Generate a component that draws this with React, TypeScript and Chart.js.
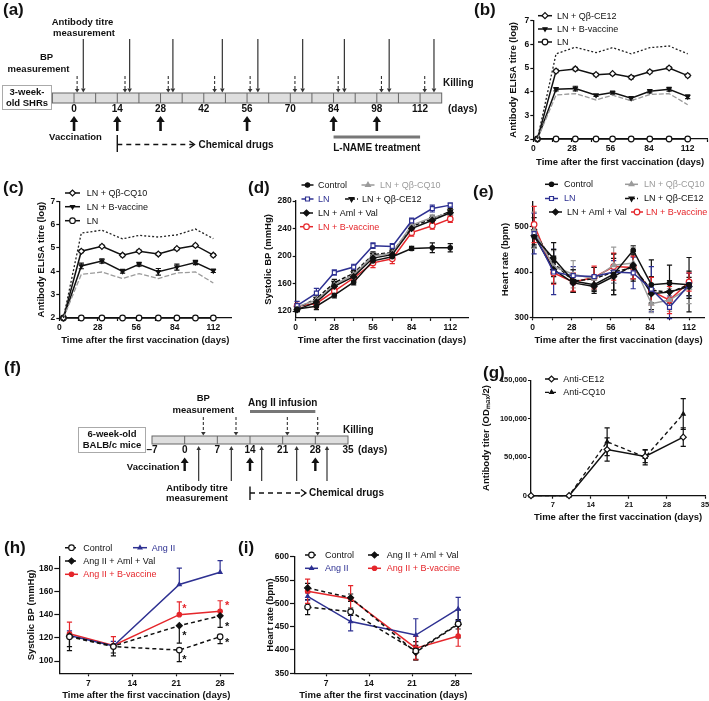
import React, { useEffect, useRef } from "react";
import { Chart, registerables } from "chart.js";
import { drawPoint } from "chart.js/helpers";

Chart.register(...registerables);

const FONT = '"Liberation Sans", Arial, Helvetica, sans-serif';
const BLACK = "#111111";
const BLUE = "#2e3192";
const RED = "#e5262b";
const GRAY = "#9b9b9b";
const DOTTED = "#222222";

// ---------------- (a) schematic (days)
const A_BAR_RANGE = [-7, 119];
const A_SEGMENT = 7;
const A_TICK_DAYS = [0, 14, 28, 42, 56, 70, 84, 98, 112];
const A_BP_DAYS = [1, 16.5, 30.5, 45.5, 57, 71.5, 85.5, 99.5, 113.5];
const A_TITRE_DAYS = [3, 18, 32, 48, 59.5, 74, 87.5, 102, 116.5];
const A_VACC_DAYS = [0, 14, 28, 56, 84, 98];
const A_DRUG_RANGE = [14, 39];
const A_LNAME_RANGE = [84, 112];

// ---------------- (f) schematic (days)
const F_BAR_RANGE = [-7, 35];
const F_SEGMENT = 7;
const F_TICK_DAYS = [-7, 0, 7, 14, 21, 28, 35];
const F_BP_DAYS = [4, 11, 22, 28.5];
const F_TITRE_DAYS = [3, 10, 16.5, 24, 30.5];
const F_VACC_DAYS = [0, 14, 28];
const F_DRUG_RANGE = [14, 26];
const F_ANGII_RANGE = [14, 28];

// ---------------- (b)
const B_DAYS = [3, 16.5, 30.5, 45.5, 57.5, 71, 84.5, 98.5, 112];
const B_CE12 = [2, 4.87, 4.96, 4.72, 4.76, 4.61, 4.84, 5.0, 4.68];
const B_CE12_ERR = [0, 0.07, 0.07, 0.05, 0.05, 0.07, 0.06, 0.05, 0.06];
const B_BVAC = [2, 4.1, 4.13, 3.85, 3.96, 3.72, 4.02, 4.1, 3.79];
const B_BVAC_ERR = [0, 0.07, 0.1, 0.05, 0.06, 0.07, 0.07, 0.08, 0.08];
const B_LN = [2, 2, 2, 2, 2, 2, 2, 2, 2];
const B_UPPER = [2, 5.6, 5.88, 5.65, 5.86, 5.6, 5.86, 5.93, 5.6];
const B_LOWER = [2, 3.86, 3.92, 3.65, 3.85, 3.62, 3.88, 3.92, 3.45];

// ---------------- (c)
const C_DAYS = [3, 16, 31, 46, 58, 72, 85.5, 99, 112];
const C_CQ10 = [2, 4.86, 5.07, 4.69, 4.86, 4.74, 4.97, 5.11, 4.69];
const C_CQ10_ERR = [0, 0.06, 0.05, 0.06, 0.05, 0.06, 0.05, 0.05, 0.06];
const C_BVAC = [2, 4.23, 4.44, 4.0, 4.3, 3.98, 4.18, 4.38, 4.02];
const C_BVAC_ERR = [0, 0.12, 0.09, 0.08, 0.08, 0.14, 0.13, 0.09, 0.07];
const C_LN = [2, 2, 2, 2, 2, 2, 2, 2, 2];
const C_UPPER = [2, 5.64, 5.76, 5.39, 5.54, 5.47, 5.56, 5.81, 5.4];
const C_LOWER = [2, 3.87, 3.97, 3.69, 3.9, 3.69, 3.93, 3.97, 3.5];

// ---------------- (d) systolic BP
const D_DAYS = [1, 15, 28, 42, 56, 70, 84, 99, 112];
const D_CONTROL = [123, 127, 143, 162, 193, 199, 211, 212, 212];
const D_CONTROL_ERR = [4, 5, 4, 4, 4, 4, 3, 7, 6];
const D_LN = [128, 146, 176, 184, 215, 214, 251, 269, 274];
const D_LN_ERR = [6, 7, 4, 4, 4, 4, 4, 5, 3];
const D_AMLVAL = [122, 133, 156, 170, 197, 202, 240, 252, 263];
const D_AMLVAL_ERR = [3, 4, 4, 3, 4, 4, 4, 4, 3];
const D_CQ10 = [126, 136, 158, 173, 200, 204, 245, 256, 262];
const D_CQ10_ERR = [4, 4, 4, 3, 4, 4, 4, 4, 4];
const D_CE12 = [124, 138, 161, 175, 202, 205, 243, 254, 265];
const D_CE12_ERR = [4, 5, 5, 4, 4, 4, 4, 4, 4];
const D_BVAC = [127, 131, 149, 168, 190, 196, 234, 244, 254];
const D_BVAC_ERR = [4, 6, 5, 4, 7, 7, 5, 5, 5];

// ---------------- (e) heart rate
const E_DAYS = [1, 15, 29, 44, 58, 72, 85, 98, 112];
const E_CONTROL = [478, 430, 380, 372, 395, 448, 372, 375, 372];
const E_CONTROL_ERR = [25, 35, 25, 15, 45, 10, 55, 40, 60];
const E_LN = [485, 400, 392, 390, 400, 398, 362, 322, 372];
const E_LN_ERR = [45, 50, 20, 20, 25, 35, 50, 25, 25];
const E_AMLVAL = [480, 405, 376, 368, 390, 415, 352, 356, 368];
const E_AMLVAL_ERR = [25, 30, 20, 15, 40, 30, 20, 25, 20];
const E_CQ10 = [492, 412, 395, 385, 415, 420, 330, 338, 365];
const E_CQ10_ERR = [40, 35, 30, 25, 40, 35, 20, 25, 35];
const E_CE12 = [490, 420, 380, 385, 400, 410, 360, 355, 372];
const E_CE12_ERR = [30, 30, 25, 25, 40, 30, 30, 20, 30];
const E_BVAC = [505, 398, 378, 388, 412, 410, 358, 338, 378];
const E_BVAC_ERR = [40, 25, 20, 25, 30, 25, 30, 30, 20];

// ---------------- (g) antibody titer
const G_DAYS = [3, 10, 17, 24, 31];
const G_CE12 = [0, 0, 60000, 51000, 76000];
const G_CE12_ERR = [0, 0, 15000, 8000, 12000];
const G_CQ10 = [0, 0, 70000, 50000, 106000];
const G_CQ10_ERR = [0, 0, 18000, 10000, 20000];

// ---------------- (h) systolic BP
const H_DAYS = [4, 11, 21.5, 28];
const H_CONTROL = [121, 112.5, 109.5, 121];
const H_CONTROL_ERR = [12, 8, 10, 6];
const H_AMLVAL = [121.5, 113, 130.5, 139];
const H_AMLVAL_ERR = [9, 6, 15, 10];
const H_ANGII = [122, 113, 166, 176.5];
const H_ANGII_ERR = [4, 4, 14, 10];
const H_BVAC = [123.5, 113.5, 140, 143];
const H_BVAC_ERR = [10, 7.5, 11, 9];
const H_STARS_X = [22.3, 22.3, 22.3, 29.1, 29.1, 29.1];
const H_STARS_Y = [147, 123, 103, 149.5, 131.5, 117];
const H_STARS_RED = [true, false, false, true, false, false];

// ---------------- (i) heart rate
const I_DAYS = [4, 11, 21.6, 28.5];
const I_CONTROL = [492, 482, 398, 456];
const I_CONTROL_ERR = [16, 8, 20, 30];
const I_AMLVAL = [533, 512, 395, 455];
const I_AMLVAL_ERR = [10, 8, 15, 10];
const I_ANGII = [515, 461, 432, 488];
const I_ANGII_ERR = [8, 20, 35, 25];
const I_BVAC = [526, 510, 404, 430];
const I_BVAC_ERR = [26, 28, 25, 22];

const X_TITLE = "Time after the first vaccination (days)";

type Box = { left: number; top: number; width: number; height: number };
type Area = { L: number; T: number; R: number; B: number };
interface Series {
  label: string;
  days: number[];
  values: number[];
  errUp?: number[];
  errDown?: number[];
  color: string;
  dash?: number[];
  width?: number;
  marker?: string | false;
  radius?: number;
  open?: boolean;
  rotation?: number;
}
interface LegendItem { ds: number; sx: number; sw: number; tx: number; y: number; color?: string }
interface Panel {
  box: Box;
  area: Area;
  x: { min: number; max: number; step: number; every?: number };
  y: { min: number; max: number; step: number; fmt?: (v: number) => string };
  yTickLen?: number;
  tickSize?: number;
  yTitle: string;
  yTitleX: number;
  xTitleY: number;
  series: Series[];
  legend: LegendItem[];
  stars?: { x: number[]; y: number[]; red: boolean[] };
}

function toDataset(s: Series) {
  return {
    label: s.label,
    data: s.days.map((d, i) => ({ x: d, y: s.values[i] })),
    borderColor: s.color,
    backgroundColor: s.color,
    borderWidth: s.width ?? 1.5,
    borderDash: s.dash ?? [],
    pointStyle: s.marker || "circle",
    pointRadius: s.marker ? s.radius ?? 2.8 : 0,
    pointHoverRadius: s.marker ? s.radius ?? 2.8 : 0,
    pointBorderWidth: 1.2,
    pointBackgroundColor: s.open ? "#ffffff" : s.color,
    pointBorderColor: s.color,
    pointRotation: s.rotation ?? 0,
    tension: 0,
    clip: false,
    errUp: s.errUp,
    errDown: s.errDown,
  };
}

const errorBarPlugin = {
  id: "errorBars",
  beforeDatasetsDraw(chart: any) {
    const { ctx } = chart;
    const sx = chart.scales.x;
    const sy = chart.scales.y;
    chart.data.datasets.forEach((ds: any) => {
      if (!ds.errUp && !ds.errDown) return;
      ctx.save();
      ctx.strokeStyle = ds.borderColor;
      ctx.lineWidth = 1.2;
      ctx.setLineDash([]);
      ds.data.forEach((p: any, j: number) => {
        const px = sx.getPixelForValue(p.x);
        const py = sy.getPixelForValue(p.y);
        const parts: number[] = [];
        if (ds.errUp && ds.errUp[j]) parts.push(p.y + ds.errUp[j]);
        if (ds.errDown && ds.errDown[j]) parts.push(p.y - ds.errDown[j]);
        parts.forEach((v) => {
          const ty = sy.getPixelForValue(v);
          ctx.beginPath();
          ctx.moveTo(px, py);
          ctx.lineTo(px, ty);
          ctx.moveTo(px - 2.6, ty);
          ctx.lineTo(px + 2.6, ty);
          ctx.stroke();
        });
      });
      ctx.restore();
    });
  },
};

function makeLegendPlugin(items: LegendItem[], box: Box) {
  return {
    id: "customLegend",
    afterDraw(chart: any) {
      const ctx = chart.ctx;
      ctx.save();
      items.forEach((it) => {
        const ds = chart.data.datasets[it.ds];
        const x0 = it.sx - box.left;
        const x1 = x0 + it.sw;
        const y = it.y - box.top;
        ctx.strokeStyle = ds.borderColor;
        ctx.lineWidth = ds.borderWidth;
        ctx.setLineDash(ds.borderDash || []);
        ctx.beginPath();
        ctx.moveTo(x0, y);
        ctx.lineTo(x1, y);
        ctx.stroke();
        ctx.setLineDash([]);
        ctx.fillStyle = ds.pointBackgroundColor;
        ctx.strokeStyle = ds.pointBorderColor;
        ctx.lineWidth = ds.pointBorderWidth;
        if (ds.pointRadius > 0) {
          drawPoint(
            ctx,
            { pointStyle: ds.pointStyle, rotation: ds.pointRotation || 0, radius: ds.pointRadius, borderWidth: ds.pointBorderWidth } as any,
            (x0 + x1) / 2,
            y
          );
        }
        ctx.fillStyle = it.color || BLACK;
        ctx.font = `9px ${FONT}`;
        ctx.textAlign = "left";
        ctx.textBaseline = "middle";
        ctx.fillText(ds.label, it.tx - box.left, y + 0.5);
      });
      ctx.restore();
    },
  };
}

function makeStarPlugin(stars?: { x: number[]; y: number[]; red: boolean[] }) {
  return {
    id: "stars",
    afterDatasetsDraw(chart: any) {
      if (!stars) return;
      const ctx = chart.ctx;
      ctx.save();
      ctx.font = `bold 11px ${FONT}`;
      ctx.textAlign = "center";
      ctx.textBaseline = "middle";
      stars.x.forEach((xv, i) => {
        ctx.fillStyle = stars.red[i] ? RED : BLACK;
        ctx.fillText("*", chart.scales.x.getPixelForValue(xv), chart.scales.y.getPixelForValue(stars.y[i]) + 2);
      });
      ctx.restore();
    },
  };
}

function lineConfig(p: Panel): any {
  const titleSize = 9.5;
  const lh = titleSize * 1.2;
  const { box, area } = p;
  const yTick = p.yTickLen ?? 3;
  const tickSize = p.tickSize ?? 8.5;
  return {
    type: "line",
    data: { datasets: p.series.map(toDataset) },
    options: {
      animation: false,
      responsive: false,
      devicePixelRatio: 1,
      layout: {
        autoPadding: false,
        padding: { left: 0, top: area.T - box.top, right: box.left + box.width - area.R, bottom: 0 },
      },
      plugins: { legend: { display: false }, tooltip: { enabled: false } },
      scales: {
        x: {
          type: "linear",
          min: p.x.min,
          max: p.x.max,
          afterFit: (s: any) => {
            s.height = box.top + box.height - area.B;
            s.paddingLeft = 0;
            s.paddingRight = 0;
          },
          border: { display: true, color: BLACK, width: 1.3 },
          grid: { display: true, drawOnChartArea: false, drawTicks: true, tickLength: 3, tickColor: BLACK, tickWidth: 1.2 },
          ticks: {
            stepSize: p.x.step,
            includeBounds: false,
            autoSkip: false,
            maxRotation: 0,
            padding: 2,
            color: BLACK,
            font: { family: FONT, size: tickSize, weight: "bold" },
            callback: (v: number) => (p.x.every ? (Math.abs(v % p.x.every) < 1e-6 ? String(v) : "") : String(v)),
          },
          title: {
            display: true,
            text: X_TITLE,
            color: BLACK,
            font: { family: FONT, size: titleSize, weight: "bold" },
            padding: { top: 0, bottom: box.top + box.height - p.xTitleY - lh / 2 },
          },
        },
        y: {
          type: "linear",
          min: p.y.min,
          max: p.y.max,
          afterFit: (s: any) => {
            s.width = area.L - box.left;
            s.paddingTop = 0;
            s.paddingBottom = 0;
          },
          border: { display: true, color: BLACK, width: 1.3 },
          grid: { display: true, drawOnChartArea: false, drawTicks: true, tickLength: yTick, tickColor: BLACK, tickWidth: 1.2 },
          ticks: {
            stepSize: p.y.step,
            includeBounds: false,
            autoSkip: false,
            padding: 1,
            color: BLACK,
            font: { family: FONT, size: tickSize, weight: "bold" },
            callback: (v: number) => (p.y.fmt ? p.y.fmt(v) : String(v)),
          },
          title: {
            display: true,
            text: p.yTitle,
            color: BLACK,
            font: { family: FONT, size: titleSize, weight: "bold" },
            padding: { top: p.yTitleX - box.left - lh / 2, bottom: 0 },
          },
        },
      },
    },
    plugins: [errorBarPlugin, makeLegendPlugin(p.legend, box), makeStarPlugin(p.stars)],
  };
}

// ---------------- schematic drawing helpers
function text(ctx: any, s: string, x: number, y: number, align: string = "center", size = 9.5, bold = true) {
  ctx.save();
  ctx.fillStyle = BLACK;
  ctx.font = `${bold ? "bold " : ""}${size}px ${FONT}`;
  ctx.textAlign = align;
  ctx.textBaseline = "middle";
  ctx.fillText(s, x, y);
  ctx.restore();
}

function vArrow(ctx: any, x: number, y0: number, y1: number, o: { lw?: number; dash?: number[]; head?: number; hw?: number; color?: string } = {}) {
  const lw = o.lw ?? 1.2;
  const head = o.head ?? 4;
  const hw = o.hw ?? 2.5;
  const dir = y1 > y0 ? 1 : -1;
  ctx.save();
  ctx.strokeStyle = o.color ?? "#333";
  ctx.fillStyle = o.color ?? "#333";
  ctx.lineWidth = lw;
  ctx.setLineDash(o.dash ?? []);
  ctx.beginPath();
  ctx.moveTo(x, y0);
  ctx.lineTo(x, y1 - dir * head);
  ctx.stroke();
  ctx.setLineDash([]);
  ctx.beginPath();
  ctx.moveTo(x, y1);
  ctx.lineTo(x - hw, y1 - dir * head);
  ctx.lineTo(x + hw, y1 - dir * head);
  ctx.closePath();
  ctx.fill();
  ctx.restore();
}

function drawBar(ctx: any, X: (d: number) => number, range: number[], seg: number, yTop: number, yBot: number) {
  const x0 = X(range[0]);
  const x1 = X(range[1]);
  ctx.save();
  ctx.fillStyle = "#dedede";
  ctx.fillRect(x0, yTop, x1 - x0, yBot - yTop);
  ctx.strokeStyle = "#666";
  ctx.lineWidth = 1;
  ctx.strokeRect(x0, yTop, x1 - x0, yBot - yTop);
  ctx.beginPath();
  for (let d = range[0] + seg; d < range[1]; d += seg) {
    ctx.moveTo(X(d), yTop);
    ctx.lineTo(X(d), yBot);
  }
  ctx.stroke();
  ctx.restore();
}

function hLine(ctx: any, x0: number, x1: number, y: number, lw: number, color: string, dash: number[] = []) {
  ctx.save();
  ctx.strokeStyle = color;
  ctx.lineWidth = lw;
  ctx.setLineDash(dash);
  ctx.beginPath();
  ctx.moveTo(x0, y);
  ctx.lineTo(x1, y);
  ctx.stroke();
  ctx.restore();
}

function drugArrow(ctx: any, x0: number, x1: number, y: number, y0: number, y1: number) {
  ctx.save();
  ctx.strokeStyle = BLACK;
  ctx.lineWidth = 1.4;
  ctx.beginPath();
  ctx.moveTo(x0, y0);
  ctx.lineTo(x0, y1);
  ctx.stroke();
  ctx.restore();
  hLine(ctx, x0, x1 - 1, y, 1.3, BLACK, [5, 4]);
  ctx.save();
  ctx.strokeStyle = BLACK;
  ctx.lineWidth = 1.3;
  ctx.beginPath();
  ctx.moveTo(x1 - 5, y - 3.5);
  ctx.lineTo(x1, y);
  ctx.lineTo(x1 - 5, y + 3.5);
  ctx.stroke();
  ctx.restore();
}

function schematicConfig(box: Box, xMin: number, xMax: number, areaL: number, areaR: number, draw: (ctx: any, X: (d: number) => number, Y: (v: number) => number) => void): any {
  return {
    type: "scatter",
    data: { datasets: [] },
    options: {
      animation: false,
      responsive: false,
      devicePixelRatio: 1,
      layout: { autoPadding: false, padding: { left: areaL - box.left, right: box.left + box.width - areaR, top: 0, bottom: 0 } },
      plugins: { legend: { display: false }, tooltip: { enabled: false } },
      scales: {
        x: { type: "linear", min: xMin, max: xMax, display: false },
        y: { type: "linear", min: box.top, max: box.top + box.height, reverse: true, display: false },
      },
    },
    plugins: [
      {
        id: "schematic",
        afterDraw(chart: any) {
          const X = (d: number) => chart.scales.x.getPixelForValue(d);
          const Y = (v: number) => chart.scales.y.getPixelForValue(v);
          draw(chart.ctx, X, Y);
        },
      },
    ],
  };
}

const BOX_A: Box = { left: 0, top: 0, width: 480, height: 160 };
function drawA(ctx: any, X: (d: number) => number, Y: (v: number) => number) {
  ctx.save();
  ctx.strokeStyle = "#aaa";
  ctx.lineWidth = 1;
  ctx.fillStyle = "#fff";
  ctx.fillRect(2.5, Y(85.5), 49, 24);
  ctx.strokeRect(2.5, Y(85.5), 49, 24);
  ctx.restore();
  text(ctx, "3-week-", 27, Y(92.5));
  text(ctx, "old SHRs", 27, Y(103));
  drawBar(ctx, X, A_BAR_RANGE, A_SEGMENT, Y(93), Y(103));
  A_TICK_DAYS.forEach((d) => text(ctx, String(d), X(d), Y(109), "center", 10));
  text(ctx, "(days)", 448, Y(109), "left", 10);
  text(ctx, "Killing", 443, Y(83), "left", 10);
  A_BP_DAYS.forEach((d) => vArrow(ctx, X(d), Y(76), Y(92.5), { dash: [3, 2], lw: 1.1, head: 3.5, hw: 2.3 }));
  A_TITRE_DAYS.forEach((d) => vArrow(ctx, X(d), Y(39), Y(92.5), { lw: 1.2, head: 4, hw: 2.3 }));
  A_VACC_DAYS.forEach((d) => vArrow(ctx, X(d), Y(131), Y(116), { lw: 2.6, head: 6, hw: 4.2, color: BLACK }));
  text(ctx, "BP", 46.5, Y(57));
  text(ctx, "measurement", 38.5, Y(69));
  text(ctx, "Antibody titre", 82.5, Y(22));
  text(ctx, "measurement", 84, Y(33));
  text(ctx, "Vaccination", 75.5, Y(137.5));
  drugArrow(ctx, X(A_DRUG_RANGE[0]), X(A_DRUG_RANGE[1]), Y(144.5), Y(135), Y(152));
  text(ctx, "Chemical drugs", X(A_DRUG_RANGE[1]) + 4, Y(145), "left", 10);
  hLine(ctx, X(A_LNAME_RANGE[0]), X(A_LNAME_RANGE[1]), Y(137), 3, "#777");
  text(ctx, "L-NAME treatment", X((A_LNAME_RANGE[0] + A_LNAME_RANGE[1]) / 2), Y(148.5), "center", 10);
}

const BOX_F: Box = { left: 0, top: 355, width: 480, height: 150 };
function drawF(ctx: any, X: (d: number) => number, Y: (v: number) => number) {
  ctx.save();
  ctx.strokeStyle = "#aaa";
  ctx.lineWidth = 1;
  ctx.fillStyle = "#fff";
  ctx.fillRect(78.5, Y(427.5), 67, 25);
  ctx.strokeRect(78.5, Y(427.5), 67, 25);
  ctx.restore();
  text(ctx, "6-week-old", 112, Y(434));
  text(ctx, "BALB/c mice", 112, Y(445.5));
  drawBar(ctx, X, F_BAR_RANGE, F_SEGMENT, Y(436), Y(444));
  F_TICK_DAYS.forEach((d) => text(ctx, d < 0 ? "\u2013" + Math.abs(d) : String(d), X(d), Y(450), "center", 10));
  text(ctx, "(days)", 358, Y(450), "left", 10);
  text(ctx, "Killing", 343, Y(430), "left", 10);
  F_BP_DAYS.forEach((d) => vArrow(ctx, X(d), Y(417), Y(435.5), { dash: [3, 2], lw: 1.1, head: 3.5, hw: 2.3 }));
  text(ctx, "BP", X(F_BP_DAYS[0]), Y(398.5));
  text(ctx, "measurement", X(F_BP_DAYS[0]), Y(410.5));
  text(ctx, "Ang II infusion", X((F_ANGII_RANGE[0] + F_ANGII_RANGE[1]) / 2), Y(403.3), "center", 10);
  hLine(ctx, X(F_ANGII_RANGE[0]), X(F_ANGII_RANGE[1]), Y(411.5), 3, "#777");
  F_VACC_DAYS.forEach((d) => vArrow(ctx, X(d), Y(471), Y(457.5), { lw: 2.4, head: 5.5, hw: 4, color: BLACK }));
  text(ctx, "Vaccination", X(0) - 5, Y(467), "right");
  F_TITRE_DAYS.forEach((d) => vArrow(ctx, X(d), Y(481), Y(446), { lw: 1.2, head: 4, hw: 2.2 }));
  text(ctx, "Antibody titre", 197, Y(488));
  text(ctx, "measurement", 197, Y(498.5));
  drugArrow(ctx, X(F_DRUG_RANGE[0]), X(F_DRUG_RANGE[1]), Y(493), Y(486.5), Y(500));
  text(ctx, "Chemical drugs", X(F_DRUG_RANGE[1]) + 3, Y(493), "left", 10);
}

// ---------------- panels
const PANEL_B: Panel = {
  box: { left: 488, top: 0, width: 221, height: 172 },
  area: { L: 533.3, T: 20.7, R: 707, B: 139 },
  x: { min: 0, max: 126, step: 14, every: 28 },
  y: { min: 2, max: 7, step: 1 },
  yTitle: "Antibody ELISA titre (log)",
  yTitleX: 513,
  xTitleY: 162,
  series: [
    { label: "upper", days: B_DAYS, values: B_UPPER, color: DOTTED, dash: [2, 2], width: 1.3, marker: false },
    { label: "lower", days: B_DAYS, values: B_LOWER, color: GRAY, dash: [5, 2], width: 1.3, marker: false },
    { label: "LN + Q\u03b2-CE12", days: B_DAYS, values: B_CE12, errUp: B_CE12_ERR, errDown: B_CE12_ERR, color: BLACK, marker: "rectRot", radius: 3, open: true },
    { label: "LN + B-vaccine", days: B_DAYS, values: B_BVAC, errUp: B_BVAC_ERR, errDown: B_BVAC_ERR, color: BLACK, marker: "triangle", radius: 2.3, rotation: 180 },
    { label: "LN", days: B_DAYS, values: B_LN, color: BLACK, marker: "circle", radius: 2.8, open: true },
  ],
  legend: [
    { ds: 2, sx: 538, sw: 14, tx: 557, y: 15.7 },
    { ds: 3, sx: 538, sw: 14, tx: 557, y: 29 },
    { ds: 4, sx: 538, sw: 14, tx: 557, y: 42 },
  ],
};

const PANEL_C: Panel = {
  box: { left: 0, top: 176, width: 238, height: 174 },
  area: { L: 59.3, T: 201.3, R: 231.2, B: 318 },
  x: { min: 0, max: 125, step: 14, every: 28 },
  y: { min: 2, max: 7, step: 1 },
  yTitle: "Antibody ELISA titre (log)",
  yTitleX: 41.5,
  xTitleY: 340,
  series: [
    { label: "upper", days: C_DAYS, values: C_UPPER, color: DOTTED, dash: [2, 2], width: 1.3, marker: false },
    { label: "lower", days: C_DAYS, values: C_LOWER, color: GRAY, dash: [5, 2], width: 1.3, marker: false },
    { label: "LN + Q\u03b2-CQ10", days: C_DAYS, values: C_CQ10, errUp: C_CQ10_ERR, errDown: C_CQ10_ERR, color: BLACK, marker: "rectRot", radius: 3, open: true },
    { label: "LN + B-vaccine", days: C_DAYS, values: C_BVAC, errUp: C_BVAC_ERR, errDown: C_BVAC_ERR, color: BLACK, marker: "triangle", radius: 2.3, rotation: 180 },
    { label: "LN", days: C_DAYS, values: C_LN, color: BLACK, marker: "circle", radius: 2.8, open: true },
  ],
  legend: [
    { ds: 2, sx: 65, sw: 15, tx: 86.7, y: 193 },
    { ds: 3, sx: 65, sw: 15, tx: 86.7, y: 206.7 },
    { ds: 4, sx: 65, sw: 15, tx: 86.7, y: 220.7 },
  ],
};

function sixSeries(days: number[], c: number[][]): Series[] {
  return [
    { label: "Control", days, values: c[0], errUp: c[1], errDown: c[1], color: BLACK, marker: "circle", radius: 2.2 },
    { label: "LN", days, values: c[2], errUp: c[3], errDown: c[3], color: BLUE, marker: "rect", radius: 2.8, open: true },
    { label: "LN + Aml + Val", days, values: c[4], errUp: c[5], errDown: c[5], color: BLACK, marker: "rectRot", radius: 3 },
    { label: "LN + Q\u03b2-CQ10", days, values: c[6], errUp: c[7], errDown: c[7], color: GRAY, marker: "triangle", radius: 2.8 },
    { label: "LN + Q\u03b2-CE12", days, values: c[8], errUp: c[9], errDown: c[9], color: BLACK, dash: [4, 2], marker: "triangle", radius: 2.8, rotation: 180 },
    { label: "LN + B-vaccine", days, values: c[10], errUp: c[11], errDown: c[11], color: RED, marker: "circle", radius: 2.8, open: true },
  ];
}

const PANEL_D: Panel = {
  box: { left: 240, top: 176, width: 232, height: 174 },
  area: { L: 295.7, T: 201, R: 468.2, B: 317.9 },
  x: { min: 0, max: 125, step: 14, every: 28 },
  y: { min: 110, max: 280, step: 40 },
  yTitle: "Systolic BP (mmHg)",
  yTitleX: 268,
  xTitleY: 340,
  series: sixSeries(D_DAYS, [D_CONTROL, D_CONTROL_ERR, D_LN, D_LN_ERR, D_AMLVAL, D_AMLVAL_ERR, D_CQ10, D_CQ10_ERR, D_CE12, D_CE12_ERR, D_BVAC, D_BVAC_ERR]),
  legend: [
    { ds: 0, sx: 301.5, sw: 12, tx: 318, y: 185 },
    { ds: 3, sx: 361.5, sw: 13, tx: 380, y: 185, color: GRAY },
    { ds: 1, sx: 301.5, sw: 12, tx: 318, y: 199, color: BLUE },
    { ds: 4, sx: 345, sw: 13, tx: 362, y: 199 },
    { ds: 2, sx: 300, sw: 13, tx: 318, y: 213 },
    { ds: 5, sx: 300, sw: 13, tx: 318, y: 226.7, color: RED },
  ],
};

const PANEL_E: Panel = {
  box: { left: 480, top: 176, width: 229, height: 174 },
  area: { L: 532.7, T: 201.8, R: 704.4, B: 317.3 },
  x: { min: 0, max: 123, step: 14, every: 28 },
  y: { min: 300, max: 555, step: 100 },
  yTitle: "Heart rate (bpm)",
  yTitleX: 505,
  xTitleY: 340,
  series: sixSeries(E_DAYS, [E_CONTROL, E_CONTROL_ERR, E_LN, E_LN_ERR, E_AMLVAL, E_AMLVAL_ERR, E_CQ10, E_CQ10_ERR, E_CE12, E_CE12_ERR, E_BVAC, E_BVAC_ERR]),
  legend: [
    { ds: 0, sx: 545, sw: 13, tx: 564, y: 184.3 },
    { ds: 3, sx: 625, sw: 13, tx: 644, y: 184.3, color: GRAY },
    { ds: 1, sx: 545, sw: 13, tx: 564, y: 198.5, color: BLUE },
    { ds: 4, sx: 625, sw: 13, tx: 644, y: 198.5 },
    { ds: 2, sx: 549, sw: 13, tx: 567, y: 212 },
    { ds: 5, sx: 631, sw: 12, tx: 646, y: 212, color: RED },
  ],
};

const PANEL_G: Panel = {
  box: { left: 470, top: 365, width: 239, height: 165 },
  area: { L: 531, T: 380.2, R: 705, B: 495.7 },
  x: { min: 3, max: 35, step: 7 },
  y: { min: 0, max: 150000, step: 50000, fmt: (v) => v.toLocaleString("en-US") },
  tickSize: 7.5,
  yTitle: "Antibody titer (OD\u2098\u2090\u2093/2)",
  yTitleX: 486,
  xTitleY: 517.7,
  series: [
    { label: "Anti-CE12", days: G_DAYS, values: G_CE12, errUp: G_CE12_ERR, errDown: G_CE12_ERR, color: BLACK, marker: "rectRot", radius: 3, open: true },
    { label: "Anti-CQ10", days: G_DAYS, values: G_CQ10, errUp: G_CQ10_ERR, errDown: G_CQ10_ERR, color: BLACK, dash: [4, 3], width: 1.3, marker: "triangle", radius: 2.2 },
  ],
  legend: [
    { ds: 0, sx: 545, sw: 13, tx: 563.3, y: 379 },
    { ds: 1, sx: 545, sw: 13, tx: 563.3, y: 392.3 },
  ],
};

function fourSeries(days: number[], c: number[][], upDown: boolean): Series[] {
  return [
    { label: "Control", days, values: c[0], errDown: c[1], errUp: upDown ? c[1] : undefined, color: BLACK, dash: [4, 3], marker: "circle", radius: 2.8, open: true },
    { label: "Ang II + Aml + Val", days, values: c[2], errDown: c[3], errUp: upDown ? c[3] : undefined, color: BLACK, dash: [4, 3], marker: "rectRot", radius: 3 },
    { label: "Ang II", days, values: c[4], errUp: c[5], errDown: upDown ? c[5] : undefined, color: BLUE, marker: "triangle", radius: 2.2 },
    { label: "Ang II + B-vaccine", days, values: c[6], errUp: c[7], errDown: upDown ? c[7] : undefined, color: RED, marker: "circle", radius: 2.2 },
  ];
}

const PANEL_H: Panel = {
  box: { left: 0, top: 540, width: 240, height: 161 },
  area: { L: 59.3, T: 556.6, R: 233.3, B: 673.3 },
  x: { min: 2.38, max: 30.1, step: 7 },
  y: { min: 89.5, max: 190, step: 20 },
  yTickLen: 5,
  yTitle: "Systolic BP (mmHg)",
  yTitleX: 31.7,
  xTitleY: 695.5,
  series: fourSeries(H_DAYS, [H_CONTROL, H_CONTROL_ERR, H_AMLVAL, H_AMLVAL_ERR, H_ANGII, H_ANGII_ERR, H_BVAC, H_BVAC_ERR], false),
  legend: [
    { ds: 0, sx: 65, sw: 13, tx: 83.3, y: 547.7 },
    { ds: 2, sx: 133, sw: 14, tx: 151.7, y: 547.7, color: BLUE },
    { ds: 1, sx: 65, sw: 13, tx: 83.3, y: 561 },
    { ds: 3, sx: 65, sw: 13, tx: 83.3, y: 574.3, color: RED },
  ],
  stars: { x: H_STARS_X, y: H_STARS_Y, red: H_STARS_RED },
};

const PANEL_I: Panel = {
  box: { left: 245, top: 540, width: 235, height: 161 },
  area: { L: 295, T: 556.7, R: 471.7, B: 673.3 },
  x: { min: 1.95, max: 30.7, step: 7 },
  y: { min: 350, max: 600, step: 50 },
  yTickLen: 5,
  yTitle: "Heart rate (bpm)",
  yTitleX: 270,
  xTitleY: 695.5,
  series: fourSeries(I_DAYS, [I_CONTROL, I_CONTROL_ERR, I_AMLVAL, I_AMLVAL_ERR, I_ANGII, I_ANGII_ERR, I_BVAC, I_BVAC_ERR], true),
  legend: [
    { ds: 0, sx: 305, sw: 13, tx: 325, y: 555 },
    { ds: 1, sx: 368, sw: 13, tx: 386.7, y: 555 },
    { ds: 2, sx: 305, sw: 13, tx: 325, y: 568.3, color: BLUE },
    { ds: 3, sx: 368, sw: 13, tx: 386.7, y: 568.3, color: RED },
  ],
};

const PANEL_LABELS = [
  { t: "(a)", x: 3, y: 10 },
  { t: "(b)", x: 474, y: 10 },
  { t: "(c)", x: 3, y: 188 },
  { t: "(d)", x: 248, y: 188 },
  { t: "(e)", x: 473, y: 192 },
  { t: "(f)", x: 4, y: 368 },
  { t: "(g)", x: 483, y: 373 },
  { t: "(h)", x: 4, y: 548 },
  { t: "(i)", x: 238, y: 548 },
];

function ChartCanvas({ box, build }: { box: Box; build: () => any }) {
  const ref = useRef<HTMLCanvasElement>(null);
  useEffect(() => {
    const chart = new Chart(ref.current as HTMLCanvasElement, build());
    return () => chart.destroy();
  }, []);
  return (
    <canvas
      ref={ref}
      width={box.width}
      height={box.height}
      style={{ position: "absolute", left: box.left, top: box.top, width: box.width, height: box.height }}
    />
  );
}

export default function App() {
  const panels = [PANEL_B, PANEL_C, PANEL_D, PANEL_E, PANEL_G, PANEL_H, PANEL_I];
  return (
    <div style={{ position: "fixed", left: 0, top: 0, width: 709, height: 701, background: "#fff", overflow: "hidden" }}>
      <ChartCanvas box={BOX_A} build={() => schematicConfig(BOX_A, A_BAR_RANGE[0], A_BAR_RANGE[1], 52.4, 441.7, drawA)} />
      <ChartCanvas box={BOX_F} build={() => schematicConfig(BOX_F, F_BAR_RANGE[0], F_BAR_RANGE[1], 152, 348, drawF)} />
      {panels.map((p, i) => (
        <ChartCanvas key={i} box={p.box} build={() => lineConfig(p)} />
      ))}
      {PANEL_LABELS.map((l) => (
        <div
          key={l.t}
          style={{ position: "absolute", left: l.x, top: l.y - 10, font: `bold 17px ${FONT}`, lineHeight: "20px", color: BLACK }}
        >
          {l.t}
        </div>
      ))}
    </div>
  );
}
